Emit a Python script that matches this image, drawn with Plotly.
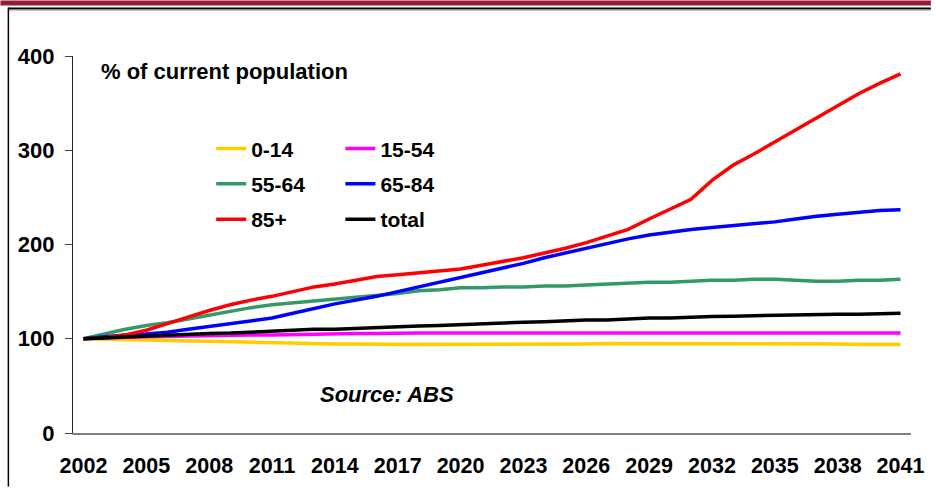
import plotly.graph_objects as go

years = list(range(2002, 2042))

age_0_14 = [100, 99.5, 99, 98.5, 98, 97.5, 97, 96.5, 96, 95.5, 95, 95, 94.5, 94.5, 94, 94, 94, 94, 94, 94,
            94, 94, 94, 94.5, 94.5, 95, 95, 95, 95, 95, 95, 95, 95, 95, 95, 94.5, 94.5, 94, 94, 94]
age_15_54 = [100, 101, 101.5, 102, 102.5, 103, 103, 103.5, 104, 104, 104.5, 105, 105, 105.5, 105.5, 106, 106, 106, 106, 106,
             106, 106, 106, 106, 106, 106, 106, 106, 106, 106, 106, 106, 106, 106, 106, 106, 106, 106, 106, 106]
age_55_64 = [100, 105, 110, 114, 117, 121, 125, 129, 133, 136, 138, 140, 142, 144, 146, 148, 151, 152, 154, 154,
             155, 155, 156, 156, 157, 158, 159, 160, 160, 161, 162, 162, 163, 163, 162, 161, 161, 162, 162, 163]
age_65_84 = [100, 102, 104, 105, 107, 110, 113, 116, 119, 122, 127, 132, 137, 141, 145, 150, 155, 160, 165, 170,
             175, 180, 186, 191, 196, 201, 206, 210, 213, 216, 218, 220, 222, 224, 227, 230, 232, 234, 236, 237]
age_85p = [100, 101, 104, 109, 116, 123, 130, 136, 141, 145, 150, 155, 158, 162, 166, 168, 170, 172, 174, 178,
           182, 186, 191, 196, 202, 209, 216, 227, 238, 248, 268, 284, 296, 309, 322, 334, 347, 360, 371, 381]
total = [100, 101, 102, 103, 104, 105, 105.5, 106, 107, 108, 109, 110, 110, 111, 112, 113, 113.5, 114, 115, 116,
         117, 117.5, 118, 119, 120, 120, 121, 122, 122, 123, 123.5, 124, 124.5, 125, 125, 125.5, 126, 126, 126.5, 127]

xticks = list(range(2002, 2042, 3))
yticks = [0, 100, 200, 300, 400]

FONT = "Liberation Sans, Arial, sans-serif"

# plot area in pixels
L, R, T, B = 73, 916, 56, 436
W, H = 936, 490


def px(x):
    return (x - L) / (R - L)


def py(y):
    return (B - y) / (B - T)


fig = go.Figure()

series = [
    ("0-14", age_0_14, "#FFCC00", "legend"),
    ("15-54", age_15_54, "#FF00FF", "legend2"),
    ("55-64", age_55_64, "#339966", "legend"),
    ("65-84", age_65_84, "#0000FF", "legend2"),
    ("85+", age_85p, "#FF0000", "legend"),
    ("total", total, "#000000", "legend2"),
]
for name, vals, col, lg in series:
    fig.add_trace(go.Scatter(x=years, y=vals, name=name, mode="lines",
                             line=dict(color=col, width=3.5),
                             legend=lg, legendgroup=name))

legend_common = dict(
    font=dict(family=FONT, size=21, color="black", weight="bold"),
    bgcolor="rgba(0,0,0,0)",
    xanchor="left", yanchor="top",
    tracegroupgap=5,
    itemwidth=30,
)

fig.update_layout(
    width=W, height=H,
    margin=dict(l=L, r=W - R, t=T, b=H - B),
    paper_bgcolor="white", plot_bgcolor="white",
    showlegend=True,
    legend=dict(x=px(212), y=py(129), **legend_common),
    legend2=dict(x=px(342), y=py(129), **legend_common),
    xaxis=dict(range=[2001.5, 2041.5], tickvals=xticks, ticktext=[str(v) for v in xticks],
               showgrid=False, zeroline=False, showline=True, linecolor="#808080", linewidth=1.5,
               ticks="", ticklabelstandoff=12,
               tickfont=dict(family=FONT, size=21.5, color="black", weight="bold")),
    yaxis=dict(range=[0, 400], tickvals=yticks, showgrid=False, zeroline=False,
               showline=True, linecolor="#222222", linewidth=1.2,
               ticks="outside", ticklen=7, tickcolor="#444444", tickwidth=1.2,
               ticklabelstandoff=6,
               tickfont=dict(family=FONT, size=22, color="black", weight="bold")),
    annotations=[
        dict(x=px(99), y=py(72), xref="paper", yref="paper", xanchor="left", yanchor="middle",
             text="% of current population", showarrow=False,
             font=dict(family=FONT, size=22, color="black", weight="bold")),
        dict(x=px(319), y=py(397), xref="paper", yref="paper", xanchor="left", yanchor="middle",
             text="<i>Source: ABS</i>", showarrow=False,
             font=dict(family=FONT, size=22, color="black", weight="bold")),
    ],
    shapes=[
        dict(type="rect", xref="paper", yref="paper", x0=px(0), x1=px(W), y0=py(0), y1=py(5),
             fillcolor="#951B3A", line=dict(width=0), layer="above"),
        dict(type="line", xref="paper", yref="paper", x0=px(8), x1=px(W), y0=py(8), y1=py(8),
             line=dict(color="black", width=2)),
        dict(type="line", xref="paper", yref="paper", x0=px(9), x1=px(W), y0=py(10), y1=py(10),
             line=dict(color="#BBBBBB", width=1)),
        dict(type="line", xref="paper", yref="paper", x0=px(8), x1=px(8), y0=py(7), y1=py(H),
             line=dict(color="black", width=1.5)),
    ],
)

fig.write_html("out.html", config={"displayModeBar": False},
               post_script="document.body.style.margin='0';document.body.style.overflow='hidden';")
